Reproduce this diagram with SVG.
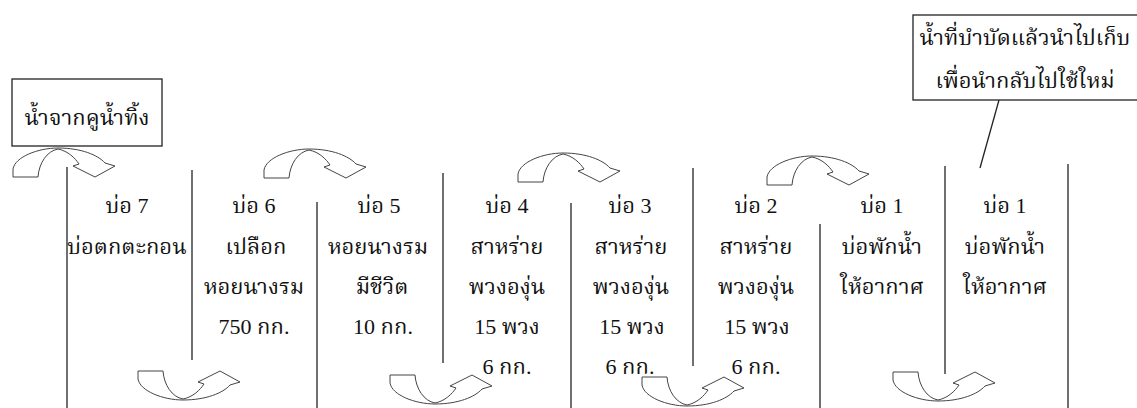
<svg xmlns="http://www.w3.org/2000/svg" xmlns:xlink="http://www.w3.org/1999/xlink" width="1137" height="408" viewBox="0 0 1137 408">
<style>
.bg{fill:#ffffff}
.box{fill:#ffffff;stroke:#222;stroke-width:1.3}
.wall{stroke:#222;stroke-width:1.3;fill:none}
.arr{fill:#ffffff;stroke:#444;stroke-width:1}
text{font-family:"Liberation Serif","Noto Serif Thai","Noto Sans Thai","Noto Sans",serif;font-size:22px;fill:#111;text-anchor:middle}
</style>
<defs>
<path id="u" class="arr" d="M0,0 L25,0 C26,14 34,26 45,28 C55,26 62,19 66,13 L60,11 L82,0 L102,11 L92,14 C85,22 68,29 45,29 C25,29 2,20 0,8 Z"/>
</defs>
<rect class="bg" x="0" y="0" width="1137" height="408"/>
<g id="connectors">
<line class="wall" x1="999" y1="100" x2="980" y2="168"/>
<use xlink:href="#u" transform="translate(13,177) scale(1,-1)"/>
<use xlink:href="#u" transform="translate(264,178) scale(1,-1)"/>
<use xlink:href="#u" transform="translate(518,182) scale(1,-1)"/>
<use xlink:href="#u" transform="translate(767,185) scale(1,-1)"/>
<use xlink:href="#u" transform="translate(138,371)"/>
<use xlink:href="#u" transform="translate(390,375)"/>
<use xlink:href="#u" transform="translate(642,377)"/>
<use xlink:href="#u" transform="translate(893,372)"/>
</g>
<g id="walls">
<line class="wall" x1="67" y1="167" x2="67" y2="408"/>
<line class="wall" x1="192" y1="170" x2="192" y2="360"/>
<line class="wall" x1="317" y1="202" x2="317" y2="408"/>
<line class="wall" x1="443" y1="173" x2="443" y2="363"/>
<line class="wall" x1="571" y1="203" x2="571" y2="408"/>
<line class="wall" x1="693" y1="168" x2="693" y2="366"/>
<line class="wall" x1="820" y1="224" x2="820" y2="408"/>
<line class="wall" x1="945" y1="166" x2="945" y2="374"/>
<line class="wall" x1="1068" y1="164" x2="1068" y2="408"/>
</g>
<g id="source">
<rect class="box" x="12" y="79" width="150" height="67"/>
<text x="87" y="125">น้ำจากคูน้ำทิ้ง</text>
</g>
<g id="reuse">
<rect class="box" x="913" y="15" width="230" height="85"/>
<text x="1025" y="45">น้ำที่บำบัดแล้วนำไปเก็บ</text>
<text x="1025" y="88">เพื่อนำกลับไปใช้ใหม่</text>
</g>
<g id="pond7">
<text x="127" y="213">บ่อ 7</text>
<text x="127" y="254">บ่อตกตะกอน</text>
</g>
<g id="pond6">
<text x="254" y="213">บ่อ 6</text>
<text x="256" y="254">เปลือก</text>
<text x="254" y="294">หอยนางรม</text>
<text x="254" y="334">750 กก.</text>
</g>
<g id="pond5">
<text x="379" y="213">บ่อ 5</text>
<text x="378" y="254">หอยนางรม</text>
<text x="382" y="294">มีชีวิต</text>
<text x="383" y="334">10 กก.</text>
</g>
<g id="pond4">
<text x="507" y="213">บ่อ 4</text>
<text x="507" y="254">สาหร่าย</text>
<text x="507" y="294">พวงองุ่น</text>
<text x="507" y="334">15 พวง</text>
<text x="507" y="374">6 กก.</text>
</g>
<g id="pond3">
<text x="630" y="213">บ่อ 3</text>
<text x="631" y="254">สาหร่าย</text>
<text x="631" y="294">พวงองุ่น</text>
<text x="632" y="334">15 พวง</text>
<text x="630" y="374">6 กก.</text>
</g>
<g id="pond2">
<text x="756" y="213">บ่อ 2</text>
<text x="756" y="254">สาหร่าย</text>
<text x="756" y="294">พวงองุ่น</text>
<text x="757" y="334">15 พวง</text>
<text x="756" y="374">6 กก.</text>
</g>
<g id="pond1a">
<text x="882" y="213">บ่อ 1</text>
<text x="882" y="254">บ่อพักน้ำ</text>
<text x="882" y="294">ให้อากาศ</text>
</g>
<g id="pond1b">
<text x="1005" y="213">บ่อ 1</text>
<text x="1005" y="254">บ่อพักน้ำ</text>
<text x="1005" y="294">ให้อากาศ</text>
</g>
</svg>
